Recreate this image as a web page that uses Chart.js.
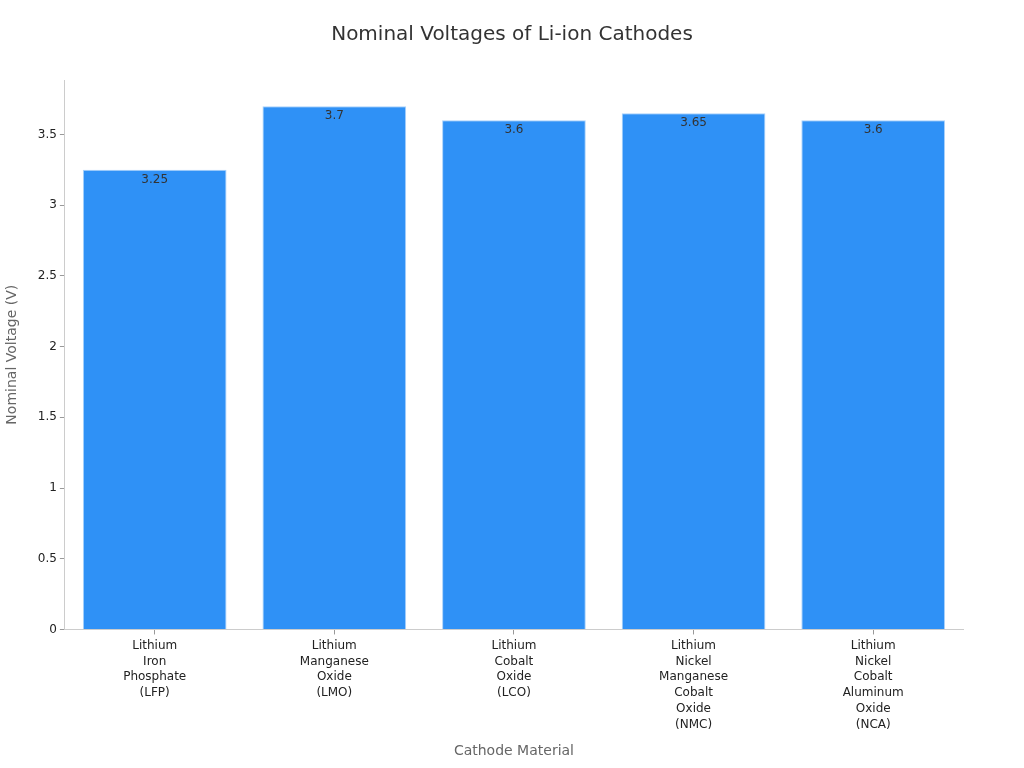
<!DOCTYPE html>
<html>
<head>
<meta charset="utf-8">
<script src="https://cdn.jsdelivr.net/npm/chart.js@4"></script>
<style>
  html, body { margin: 0; padding: 0; background: #fff; }
  #wrap { width: 1024px; height: 768px; }
</style>
</head>
<body>
<div id="wrap"><canvas id="grafico" width="1024" height="768"></canvas></div>
<script>
// dados
const categorias = [
    ["Lithium", "Iron", "Phosphate", "(LFP)"],
    ["Lithium", "Manganese", "Oxide", "(LMO)"],
    ["Lithium", "Cobalt", "Oxide", "(LCO)"],
    ["Lithium", "Nickel", "Manganese", "Cobalt", "Oxide", "(NMC)"],
    ["Lithium", "Nickel", "Cobalt", "Aluminum", "Oxide", "(NCA)"]
];
const tensoes = [3.25, 3.7, 3.6, 3.65, 3.6];

Chart.defaults.font.family = "'DejaVu Sans', sans-serif";
Chart.defaults.color = "#333";

// escreve o valor dentro do topo de cada barra
const rotulosBarras = {
    id: "rotulosBarras",
    afterDatasetsDraw(chart) {
        const ctx = chart.ctx;
        const meta = chart.getDatasetMeta(0);
        ctx.save();
        ctx.font = "12px 'DejaVu Sans', sans-serif";
        ctx.fillStyle = "#333";
        ctx.textAlign = "center";
        ctx.textBaseline = "middle";
        meta.data.forEach((barra, i) => {
            ctx.fillText(String(tensoes[i]), barra.x, barra.y + 10);
        });
        ctx.restore();
    }
};

new Chart(document.getElementById("grafico"), {
    type: "bar",
    data: {
        labels: categorias,
        datasets: [{
            label: "Nominal Voltage (V)",
            data: tensoes,
            backgroundColor: "#2f91f6",
            borderColor: "#a9d2fb",
            borderWidth: 1,
            barPercentage: 0.8,
            categoryPercentage: 1.0
        }]
    },
    options: {
        responsive: false,
        animation: false,
        layout: { padding: { left: 0, right: 0, top: 17, bottom: 4 } },
        plugins: {
            legend: { display: false },
            tooltip: { enabled: false },
            title: {
                display: true,
                text: "Nominal Voltages of Li-ion Cathodes",
                color: "#333",
                font: { size: 20, weight: "normal" },
                padding: { top: 6, bottom: 33 }
            }
        },
        scales: {
            x: {
                grid: { display: true, offset: false, drawOnChartArea: false, drawTicks: true, tickLength: 5, color: "#999" },
                border: { display: true, color: "#ccc" },
                ticks: { color: "#222", padding: 3, font: { size: 12, lineHeight: 1.33 }, maxRotation: 0, autoSkip: false },
                title: { display: true, text: "Cathode Material", color: "#666", font: { size: 14 }, padding: { top: 7, bottom: 4 } }
            },
            y: {
                min: 0,
                max: 3.885,
                grid: { display: true, drawOnChartArea: false, drawTicks: true, tickLength: 5, color: "#999" },
                border: { display: true, color: "#ccc" },
                ticks: {
                    stepSize: 0.5,
                    padding: 3,
                    color: "#222",
                    font: { size: 12 },
                    callback: v => (v > 3.6 ? null : String(v))
                },
                title: { display: true, text: "Nominal Voltage (V)", color: "#666", font: { size: 14 }, padding: { top: 4, bottom: 14 } }
            },
            // eixo vazio só para deixar a margem da direita
            margem: {
                type: "linear",
                position: "right",
                display: true,
                grid: { display: false },
                border: { display: false },
                ticks: { display: false },
                afterFit: s => { s.width = 61; }
            }
        }
    },
    plugins: [rotulosBarras]
});
</script>
</body>
</html>
